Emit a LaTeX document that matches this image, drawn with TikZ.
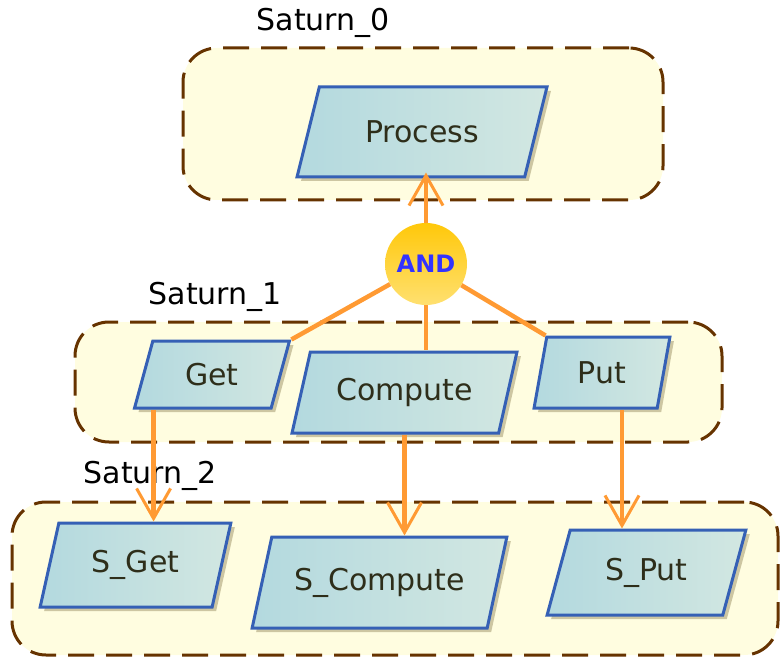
\documentclass[tikz,border=0pt]{standalone}
\usepackage{fontspec}
\setmainfont{DejaVu Sans}
\usepackage{xcolor}
\usetikzlibrary{calc}
\usetikzlibrary{arrows.meta}
\usetikzlibrary{shapes.geometric}
\usetikzlibrary{shadows}

\definecolor{boxfill}{HTML}{FFFDE0}
\definecolor{boxline}{HTML}{663300}
\definecolor{procL}{HTML}{B3D9DF}
\definecolor{procR}{HTML}{D2E7E1}
\definecolor{procline}{HTML}{3560B5}
\definecolor{procshadow}{HTML}{B8B088}
\definecolor{flowc}{HTML}{FF9A33}
\definecolor{andtop}{HTML}{FFC80A}
\definecolor{andbot}{HTML}{FFE070}
\definecolor{andtext}{HTML}{3333FF}
\definecolor{proctext}{HTML}{2E2E1A}

\tikzset{
	group/.style={draw=boxline, fill=boxfill, line width=3pt, dash pattern=on 26pt off 12pt, rounded corners=34pt, inner sep=0pt},
	grouplabel/.style={anchor=base west, inner sep=0pt, font=\fontsize{30}{33}\selectfont},
	process/.style={trapezium, trapezium stretches=true, trapezium left angle=#1, trapezium right angle={180-#1}, draw=procline, line width=3pt, left color=procL, right color=procR, text=proctext, inner sep=0pt, font=\fontsize{30}{33}\selectfont, drop shadow={shadow xshift=4pt, shadow yshift=-4pt, fill=procshadow, opacity=0.7}},
	andgate/.style={circle, minimum size=82pt, inner sep=0pt, top color=andtop, bottom color=andbot, text=andtext, font=\bfseries\fontsize{24}{26}\selectfont},
	flow/.style={draw=flowc, line width=4.5pt},
	flowarrow/.style={flow, -{Straight Barb[length=30pt, width=34pt, line width=3pt]}}
}

\begin{document}
\begin{tikzpicture}[x=1pt, y=-1pt]
		\useasboundingbox (0,0) rectangle (780,658);
		\node[group, minimum width=480pt, minimum height=152pt] (sat0) at (423,124) {};
		\node[group, minimum width=647pt, minimum height=120pt] (sat1) at (398.5,382) {};
		\node[group, minimum width=766pt, minimum height=153pt] (sat2) at (395,578.5) {};
		\node[grouplabel] (sat0lbl) at ([xshift=75pt, yshift=16pt]sat0.north west) {Saturn\_0};
		\node[grouplabel] (sat1lbl) at ([xshift=75pt, yshift=16pt]sat1.north west) {Saturn\_1};
		\node[grouplabel] (sat2lbl) at ([xshift=73pt, yshift=17pt]sat2.north west) {Saturn\_2};
		\node[process=61, minimum width=250pt, minimum height=90pt] (proc) at (422,132) {Process};
		\node[process=70, minimum width=156pt, minimum height=67pt] (get) at (212,374.5) {Get};
		\node[process=65, minimum width=225pt, minimum height=81pt] (comp) at (404.5,392.5) {Compute};
		\node[process=76, minimum width=136pt, minimum height=71pt] (put) at (602,372.5) {Put};
		\node[process=70, minimum width=191pt, minimum height=84pt] (sget) at (135.5,565) {S\_Get};
		\node[process=62, minimum width=255pt, minimum height=91pt] (scomp) at (379.5,582.5) {S\_Compute};
		\node[process=67, minimum width=199pt, minimum height=85pt] (sput) at (646.5,572.5) {S\_Put};
		\node[andgate] (and) at (426,264) {AND};
		\draw[flowarrow] (and) -- ([yshift=6pt]and |- proc.south);
		\draw[flow] (and) -- (get.top right corner);
		\draw[flow] (and) -- (and |- comp.north);
		\draw[flow] (and) -- (put.top left corner);
		\draw[flowarrow] ([xshift=21pt]get.bottom left corner) -- ([xshift=21pt]get.bottom left corner |- sget.north);
		\draw[flowarrow] (comp.south) -- (comp.south |- scomp.north);
		\draw[flowarrow] ([xshift=20pt]put.south) -- ([xshift=20pt]put.south |- sput.north);
\end{tikzpicture}
\end{document}
